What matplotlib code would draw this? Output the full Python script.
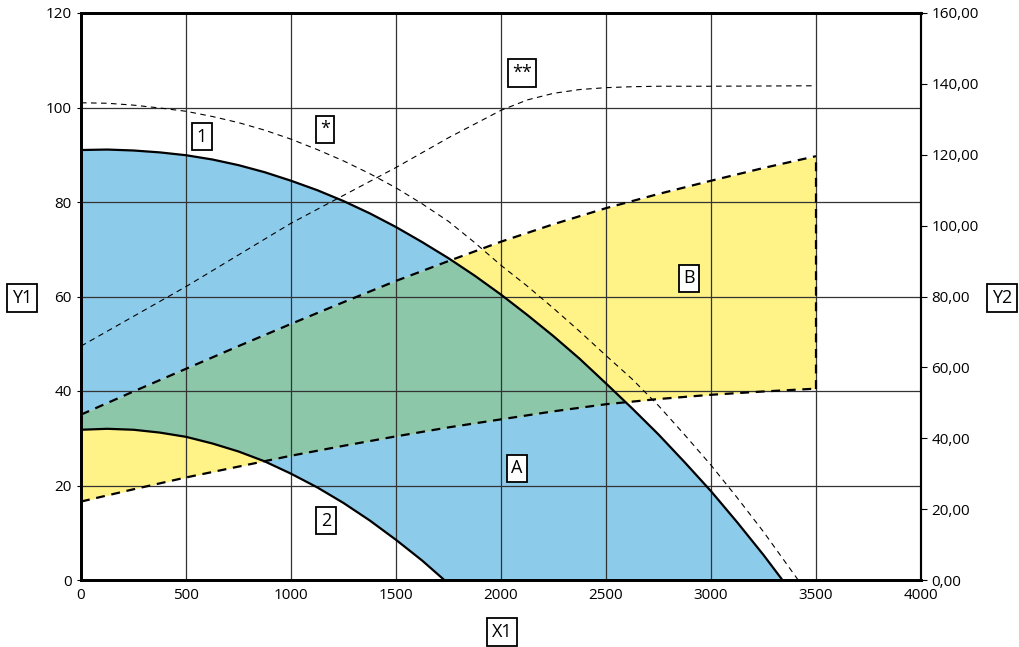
import numpy as np
import matplotlib
matplotlib.use("Agg")
import matplotlib.pyplot as plt
from matplotlib.ticker import FuncFormatter

plt.rcParams["font.family"] = ["Open Sans", "DejaVu Sans"]

# curve 1 (upper solid)
C1_X = [0, 125, 250, 375, 500, 625, 750, 875, 1000, 1125, 1250, 1375, 1500, 1625, 1750,
        1875, 2000, 2125, 2250, 2375, 2500, 2625, 2750, 2875, 3000, 3125, 3250, 3340]
C1_Y = [91.0, 91.1, 90.9, 90.5, 89.9, 89.0, 87.8, 86.3, 84.5, 82.5, 80.2, 77.6, 74.7, 71.5, 68.1,
        64.4, 60.4, 56.1, 51.6, 46.8, 41.6, 36.3, 30.8, 24.9, 18.8, 12.2, 5.3, 0.0]

# curve 2 (lower solid)
C2_X = [0, 125, 250, 375, 500, 625, 750, 875, 1000, 1125, 1250, 1375, 1500, 1625, 1730]
C2_Y = [31.8, 32.0, 31.8, 31.2, 30.3, 28.9, 27.2, 25.1, 22.5, 19.6, 16.3, 12.6, 8.5, 4.1, 0.0]

# area B boundaries (thick dashed)
B_X = [0, 250, 500, 750, 1000, 1250, 1500, 1750, 2000, 2250, 2500, 2750, 3000, 3250, 3500]
B_LO = [16.6, 19.2, 21.7, 24.0, 26.3, 28.4, 30.4, 32.3, 34.0, 35.7, 37.2, 38.3, 39.2, 39.9, 40.5]
B_UP = [35.0, 39.9, 44.7, 49.5, 54.2, 58.8, 63.3, 67.5, 71.6, 75.3, 78.7, 81.7, 84.5, 87.2, 89.7]

# curve * (thin dashed, falling)
S1_X = [0, 125, 250, 375, 500, 625, 750, 875, 1000, 1125, 1250, 1375, 1500, 1625, 1750, 1875,
        2000, 2125, 2250, 2375, 2500, 2625, 2750, 2875, 3000, 3125, 3250, 3415]
S1_Y = [101.0, 100.9, 100.5, 99.9, 99.2, 98.1, 96.8, 95.2, 93.3, 91.1, 88.7, 86.0, 83.0, 79.6, 75.9,
        71.4, 66.6, 62.2, 57.5, 52.6, 47.5, 42.5, 36.9, 30.7, 24.3, 17.4, 10.2, 0.0]

# curve ** (thin dashed, rising)
S2_X = [0, 250, 500, 750, 1000, 1250, 1500, 1750, 2000, 2125, 2250, 2375, 2500, 2625, 2750, 3000, 3500]
S2_Y = [49.5, 55.8, 62.1, 68.8, 75.5, 81.4, 87.3, 93.6, 99.4, 101.6, 103.0, 103.8, 104.2, 104.4, 104.5, 104.5, 104.6]

BLUE = "#8dcbea"
YELLOW = "#fff286"
GREEN = "#8cc7a9"

fig = plt.figure(figsize=(10.2, 6.47), dpi=100)
ax = fig.add_axes([81 / 1020, 1 - 580 / 647, 840 / 1020, 567 / 647])

xs = np.linspace(0, 3500, 1401)
c1 = np.interp(xs, C1_X, C1_Y)
c2 = np.interp(xs, C2_X, C2_Y)
lo = np.interp(xs, B_X, B_LO)
up = np.interp(xs, B_X, B_UP)

ax.fill_between(xs, c2, c1, where=c1 > c2, color=BLUE, lw=0, zorder=1)
ax.fill_between(xs, lo, up, color=YELLOW, lw=0, zorder=1)
g_lo = np.maximum(lo, c2)
g_up = np.minimum(up, c1)
ax.fill_between(xs, g_lo, g_up, where=g_up > g_lo, color=GREEN, lw=0, zorder=1.5)

ax.grid(True, color="#333333", lw=0.9, zorder=2)
ax.set_axisbelow(False)

ax.plot(C1_X, C1_Y, color="black", lw=1.6, zorder=4)
ax.plot(C2_X, C2_Y, color="black", lw=1.6, zorder=4)
ax.plot(B_X, B_LO, color="black", lw=1.6, dashes=(4, 3), zorder=4)
ax.plot(B_X, B_UP, color="black", lw=1.6, dashes=(4, 3), zorder=4)
ax.plot([B_X[-1], B_X[-1]], [B_LO[-1], B_UP[-1]], color="black", lw=1.6, dashes=(4, 3), zorder=4)
ax.plot(S1_X, S1_Y, color="black", lw=0.8, dashes=(5, 4), zorder=4)
ax.plot(S2_X, S2_Y, color="black", lw=0.8, dashes=(5, 4), zorder=4)

ax.set_xlim(0, 4000)
ax.set_ylim(0, 120)
ax.set_xticks(np.arange(0, 4001, 500))
ax.set_yticks(np.arange(0, 121, 20))
ax.tick_params(labelsize=11, length=3, color="black")
ax.tick_params(axis="x", length=0, pad=6)

ax2 = ax.twinx()
ax2.set_ylim(0, 160)
ax2.set_yticks(np.arange(0, 161, 20))
ax2.yaxis.set_major_formatter(FuncFormatter(lambda v, p: f"{v:.2f}".replace(".", ",")))
ax2.tick_params(labelsize=11, length=4)

for a in (ax, ax2):
    for s in a.spines.values():
        s.set_color("black")
        s.set_linewidth(2)
    a.spines["right"].set_linewidth(1.5)

box = dict(boxstyle="square,pad=0.25", fc="white", ec="black", lw=1.3)
labels = [("1", 576, 93.8), ("*", 1162, 95.4), ("**", 2100, 107.3),
          ("B", 2895, 63.9), ("A", 2076, 23.7), ("2", 1167, 12.5)]
for t, x, y in labels:
    ax.text(x, y, t, ha="center", va="center", fontsize=13, bbox=box, zorder=6)

fig.text(22 / 1020, 1 - 298 / 647, "Y1", ha="center", va="center", fontsize=13, bbox=box)
fig.text(1002 / 1020, 1 - 298 / 647, "Y2", ha="center", va="center", fontsize=13, bbox=box)
fig.text(502 / 1020, 1 - 632 / 647, "X1", ha="center", va="center", fontsize=13, bbox=box)

fig.savefig("out.png", dpi=100)
